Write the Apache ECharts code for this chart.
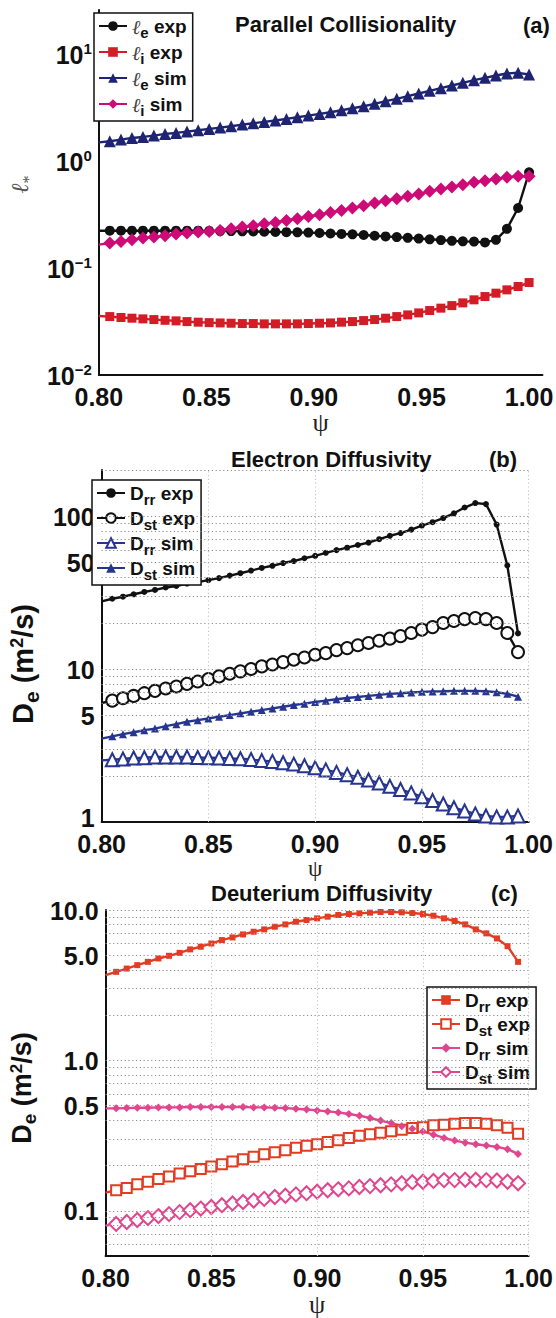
<!DOCTYPE html>
<html><head><meta charset="utf-8">
<script src="https://cdn.jsdelivr.net/npm/echarts@6/dist/echarts.min.js"></script>
<style>html,body{margin:0;padding:0;background:#fff}#c{width:556px;height:1318px}</style>
</head><body><div id="c"></div>
<script>
// ---------- data ----------
const psiA = [0.8,0.8051,0.8103,0.8154,0.8205,0.8256,0.8308,0.8359,0.841,0.8462,0.8513,0.8564,0.8615,0.8667,0.8718,0.8769,0.8821,0.8872,0.8923,0.8974,0.9026,0.9077,0.9128,0.9179,0.9231,0.9282,0.9333,0.9385,0.9436,0.9487,0.9538,0.959,0.9641,0.9692,0.9744,0.9795,0.9846,0.9897,0.9949,1.0];
const psiBC = [0.8,0.805,0.81,0.815,0.82,0.825,0.83,0.835,0.84,0.845,0.85,0.855,0.86,0.865,0.87,0.875,0.88,0.885,0.89,0.895,0.9,0.905,0.91,0.915,0.92,0.925,0.93,0.935,0.94,0.945,0.95,0.955,0.96,0.965,0.97,0.975,0.98,0.985,0.99,0.995];

// (a) parallel collisionality
const leExp = [0.224,0.224,0.224,0.224,0.224,0.224,0.224,0.224,0.224,0.224,0.223,0.222,0.222,0.221,0.220,0.219,0.218,0.217,0.216,0.215,0.213,0.211,0.209,0.207,0.204,0.201,0.198,0.195,0.192,0.189,0.186,0.183,0.180,0.178,0.177,0.174,0.184,0.233,0.365,0.787];
const liExp = [0.0356,0.0352,0.0345,0.0340,0.0335,0.0330,0.0325,0.0321,0.0316,0.0312,0.0309,0.0307,0.0305,0.0303,0.0303,0.0301,0.0301,0.0301,0.0301,0.0303,0.0305,0.0307,0.0312,0.0316,0.0323,0.0330,0.0340,0.0352,0.0365,0.0381,0.0401,0.0422,0.0446,0.0473,0.0505,0.0542,0.0583,0.0626,0.0673,0.0733];
const leSim = [1.50,1.538,1.594,1.652,1.688,1.738,1.802,1.840,1.894,1.950,2.006,2.065,2.124,2.203,2.267,2.334,2.402,2.490,2.580,2.675,2.773,2.874,3.001,3.134,3.272,3.441,3.645,3.833,4.060,4.301,4.556,4.826,5.110,5.414,5.734,6.031,6.343,6.622,6.718,6.480];
const liSim = [0.166,0.1714,0.1778,0.1842,0.1910,0.1951,0.2008,0.2082,0.2127,0.2174,0.2205,0.2253,0.2336,0.2421,0.2492,0.2601,0.2677,0.2795,0.2897,0.3047,0.3159,0.3322,0.3469,0.3648,0.3836,0.4063,0.4273,0.4462,0.4693,0.4935,0.5228,0.5497,0.5740,0.6036,0.6347,0.6580,0.6822,0.7071,0.7225,0.7225];

// (b) electron diffusivity
const eDrrExp = [27.7,28.8,29.7,30.8,31.9,32.9,34.1,34.9,36.2,37.0,38.1,39.3,40.8,42.3,44.0,45.8,47.3,49.3,50.8,53.0,54.9,57.5,59.9,62.1,64.7,67.0,70.6,74.3,77.4,81.5,86.7,91.2,97.0,104.2,113.7,121.6,119.7,88.0,47.5,17.1];
const eDstExp = [6.0,6.21,6.44,6.67,6.95,7.20,7.46,7.69,8.00,8.29,8.59,8.95,9.31,9.66,10.0,10.4,10.7,11.1,11.5,11.9,12.4,12.7,13.3,13.7,14.3,14.8,15.3,15.8,16.4,17.2,18.1,18.8,20.0,20.6,21.2,21.5,21.2,20.0,17.2,12.9];
const eDrrSim = [2.53,2.55,2.58,2.62,2.63,2.66,2.66,2.66,2.66,2.64,2.63,2.62,2.60,2.59,2.56,2.52,2.49,2.44,2.39,2.33,2.26,2.19,2.11,2.04,1.96,1.88,1.80,1.71,1.63,1.55,1.46,1.38,1.31,1.24,1.18,1.13,1.095,1.08,1.08,1.095];
const eDstSim = [3.51,3.63,3.75,3.86,3.98,4.08,4.23,4.36,4.52,4.63,4.75,4.88,5.00,5.13,5.26,5.39,5.53,5.67,5.82,5.94,6.09,6.21,6.34,6.47,6.57,6.67,6.78,6.88,6.95,7.02,7.09,7.13,7.16,7.20,7.20,7.20,7.16,7.05,6.88,6.60];

// (c) deuterium diffusivity
const dDrrExp = [3.69,3.88,4.08,4.30,4.52,4.76,4.96,5.19,5.47,5.70,5.99,6.31,6.57,6.88,7.17,7.43,7.74,8.02,8.36,8.58,8.80,9.03,9.26,9.40,9.50,9.60,9.70,9.70,9.65,9.55,9.40,9.16,8.80,8.45,8.02,7.43,6.99,6.47,5.75,4.52];
const dDstExp = [0.132,0.137,0.142,0.150,0.156,0.163,0.169,0.177,0.183,0.190,0.197,0.204,0.213,0.220,0.229,0.238,0.245,0.253,0.263,0.271,0.277,0.287,0.295,0.305,0.315,0.323,0.331,0.338,0.346,0.355,0.360,0.370,0.373,0.379,0.383,0.383,0.379,0.370,0.357,0.326];
const dDrrSim = [0.480,0.480,0.482,0.484,0.484,0.487,0.487,0.487,0.490,0.490,0.490,0.490,0.490,0.490,0.487,0.487,0.484,0.482,0.477,0.472,0.465,0.458,0.451,0.440,0.429,0.414,0.398,0.383,0.365,0.351,0.337,0.321,0.305,0.293,0.284,0.277,0.272,0.266,0.257,0.239];
const dDstSim = [0.0798,0.0818,0.0843,0.0869,0.0895,0.0923,0.0951,0.098,0.101,0.1035,0.106,0.109,0.112,0.1145,0.117,0.120,0.1235,0.126,0.1286,0.131,0.134,0.137,0.139,0.141,0.144,0.146,0.148,0.150,0.1525,0.155,0.156,0.158,0.160,0.160,0.161,0.161,0.160,0.159,0.156,0.1525];

// tick labels and grid values
const xTicks = [0.8,0.85,0.9,0.95,1.0];
const yTicksA = [0.01,0.1,1,10];
const yTicksB = [1,5,10,50,100];
const yTicksC = [0.1,0.5,1,5,10];
const hGridB = [2,3,4,5,6,7,8,9,10,20,30,40,50,60,70,80,90,100,200];
const hGridC = [0.06,0.07,0.08,0.09,0.1,0.2,0.3,0.4,0.5,0.6,0.7,0.8,0.9,1,2,3,4,5,6,7,8,9,10];
const vGrid = [0.85,0.9,0.95,1.0];

// ---------- chart ----------
const F = "'Liberation Sans Narrow','Liberation Sans',Arial,sans-serif";
const SERIF = "'Liberation Serif','DejaVu Serif',serif";
function pts(xs, ys){ return ys.map((y,i)=> i===0 ? {value:[xs[i],y], symbol:'none'} : [xs[i], y]); }

const legendLabels = {
  A1:'{l|ℓ}{sb|e}{t| exp}', A2:'{l|ℓ}{sb|i}{t| exp}', A3:'{l|ℓ}{sb|e}{t| sim}', A4:'{l|ℓ}{sb|i}{t| sim}',
  B1:'{t|D}{sb|rr}{t| exp}', B2:'{t|D}{sb|st}{t| exp}', B3:'{t|D}{sb|rr}{t| sim}', B4:'{t|D}{sb|st}{t| sim}',
  C1:'{t|D}{sb|rr}{t| exp}', C2:'{t|D}{sb|st}{t| exp}', C3:'{t|D}{sb|rr}{t| sim}', C4:'{t|D}{sb|st}{t| sim}'
};
const legendRich = {
  t:{fontFamily:F, fontWeight:'bold', fontSize:19, color:'#111', lineHeight:18, verticalAlign:'top'},
  l:{fontFamily:SERIF, fontStyle:'italic', fontWeight:'normal', fontSize:20, color:'#444', lineHeight:18, verticalAlign:'top'},
  sb:{fontFamily:F, fontWeight:'bold', fontSize:15, color:'#111', lineHeight:13, padding:[8,0,0,0], verticalAlign:'top'}
};
function mkLegend(names, left, top, gap){
  return {data:names, orient:'vertical', left:left, top:top, backgroundColor:'#fff',
    borderColor:'#111', borderWidth:1.5, borderRadius:0, padding:[4,6,3,4], itemGap:gap,
    itemWidth:28, itemHeight:12, selectedMode:false,
    formatter: n => legendLabels[n], textStyle:{rich:legendRich}};
}
function xAx(grid, max, gap, psiSize){
  return {type:'value', gridIndex:grid, min:0.8, max:max, interval:0.05,
    axisLine:{show:true, onZero:false, lineStyle:{color:'#111', width:2}},
    axisTick:{show:false}, splitLine:{show:false},
    axisLabel:{customValues:xTicks, margin:9, color:'#111', fontFamily:F, fontWeight:'bold', fontSize:25,
      formatter:v=>v.toFixed(2)},
    name:'ψ', nameLocation:'middle', nameGap:gap,
    nameTextStyle:{fontFamily:SERIF, fontSize:psiSize, color:'#222', lineHeight:psiSize}};
}
const supRich = {
  b:{fontFamily:F, fontWeight:'bold', fontSize:25, color:'#111', lineHeight:26, verticalAlign:'bottom'},
  s:{fontFamily:F, fontWeight:'bold', fontSize:15, color:'#111', lineHeight:15, verticalAlign:'top'},
  lo:{fontFamily:F, fontWeight:'bold', fontSize:25, color:'#111', lineHeight:26, padding:[0,0,8,0]}
};
function nameRich(sz){
  return {
    d:{fontFamily:F, fontWeight:'bold', fontSize:sz, color:'#111', lineHeight:sz, verticalAlign:'top'},
    e:{fontFamily:F, fontWeight:'bold', fontSize:Math.round(sz*0.72), color:'#111', lineHeight:14, padding:[Math.round(sz*0.45),0,0,0], verticalAlign:'top'},
    s:{fontFamily:F, fontWeight:'bold', fontSize:Math.round(sz*0.62), color:'#111', lineHeight:14, verticalAlign:'top'}
  };
}
function yAx(grid, min, max, ticks, fmt, name, rich, gap, pad){
  return {type:'log', logBase:10, gridIndex:grid, min:min, max:max,
    axisLine:{show:true, onZero:false, lineStyle:{color:'#111', width:2}},
    axisTick:{show:false}, splitLine:{show:false}, minorTick:{show:false},
    axisLabel:{customValues:ticks, margin:7, formatter:fmt, color:'#111', fontFamily:F, fontWeight:'bold', fontSize:25, rich:supRich},
    name:name, nameLocation:'middle', nameRotate:90, nameGap:gap, nameTextStyle:{rich:rich, padding:pad||0}};
}
function gridSeries(xi, hvals, vvals, anchor){
  const data = hvals.map(v=>({yAxis:v, lineStyle:{color:'#8c8c8c'}})).concat(vvals.map(v=>({xAxis:v, lineStyle:{color:'#c4c4c4'}})));
  return {type:'line', xAxisIndex:xi, yAxisIndex:xi, data:[anchor], symbol:'none', lineStyle:{opacity:0}, z:1, silent:true,
    markLine:{silent:true, symbol:['none','none'], label:{show:false}, animation:false,
      lineStyle:{type:[1.2,2.6], width:1.1}, data:data}};
}
function ser(name, xi, xs, ys, color, symbol, size, extra){
  return Object.assign({name:name, type:'line', xAxisIndex:xi, yAxisIndex:xi, data:pts(xs,ys),
    symbol:symbol, symbolSize:size, showAllSymbol:true, z:3,
    lineStyle:{color:color, width:2.4}, itemStyle:{color:color, borderWidth:0}}, extra||{});
}
const openStyle = (c,w)=>({itemStyle:{color:c, borderColor:c, borderWidth:w}});

const fmtA = v => { const e = Math.round(Math.log10(v)); return '{b|10}{s|' + (e<0 ? '−'+(-e) : e) + '}'; };
const fmtB = v => Math.round(v) === 1 ? '{lo|1}' : '{b|' + Math.round(v) + '}';
const fmtC = v => '{b|' + v.toFixed(1) + '}';

const cBlack='#111111', cRedA='#d21d26', cNavy='#1e2471', cMag='#cd0b76', cBlue='#26358f', cRedC='#e23c22', cPink='#e0468e';
const TS = {fontFamily:F, fontWeight:'bold', fontSize:22, color:'#111'};

const option = {
  animation:false,
  backgroundColor:'#fff',
  title:[
    {text:'Parallel Collisionality', left:230, top:8, textStyle:TS},
    {text:'(a)', left:518, top:9, textStyle:TS},
    {text:'Electron Diffusivity', left:226, top:443, textStyle:TS},
    {text:'(b)', left:484, top:443, textStyle:TS},
    {text:'Deuterium Diffusivity', left:206, top:877, textStyle:TS},
    {text:'(c)', left:486, top:877, textStyle:TS}
  ],
  grid:[
    {left:85, top:10, width:469, height:365},
    {left:83, top:470, width:450, height:352},
    {left:82, top:910, width:451, height:350}
  ],
  xAxis:[xAx(0,1.0062,33,26), xAx(1,1.0,26,23), xAx(2,1.0,31,26)],
  yAxis:[
    yAx(0, 0.01, 26, yTicksA, fmtA, '{l|ℓ}{s|*}', {
      l:{fontFamily:SERIF, fontStyle:'italic', fontSize:24, color:'#555', lineHeight:24, verticalAlign:'top'},
      s:{fontFamily:SERIF, fontSize:16, color:'#555', lineHeight:12, padding:[12,0,0,0], verticalAlign:'top'}}, 52, [0,0,0,16]),
    yAx(1, 1, 200, yTicksB, fmtB, '{d|D}{e|e}{d| (m}{s|2}{d|/s)}', nameRich(29), 40, [0,36,0,0]),
    yAx(2, 0.05, 10, yTicksC, fmtC, '{d|D}{e|e}{d| (m}{s|2}{d|/s)}', nameRich(27), 50, [0,10,0,0])
  ],
  legend:[
    mkLegend(['A1','A2','A3','A4'], 94, 13, 3),
    mkLegend(['B1','B2','B3','B4'], 92, 480, 2),
    mkLegend(['C1','C2','C3','C4'], 427, 987, 1)
  ],
  series:[
    gridSeries(1, hGridB, vGrid, [0.9, 10]),
    gridSeries(2, hGridC, vGrid, [0.9, 1]),
    ser('A1', 0, psiA, leExp, cBlack, 'circle', 10),
    ser('A2', 0, psiA, liExp, cRedA, 'rect', 9),
    ser('A3', 0, psiA, leSim, cNavy, 'triangle', 12),
    ser('A4', 0, psiA, liSim, cMag, 'diamond', 13),
    ser('B1', 1, psiBC, eDrrExp, cBlack, 'circle', 6),
    ser('B2', 1, psiBC, eDstExp, cBlack, 'emptyCircle', 12, openStyle(cBlack, 2.6)),
    ser('B3', 1, psiBC, eDrrSim, cBlue, 'emptyTriangle', 13, openStyle(cBlue, 2)),
    ser('B4', 1, psiBC, eDstSim, cBlue, 'triangle', 8),
    ser('C1', 2, psiBC, dDrrExp, cRedC, 'rect', 6),
    ser('C2', 2, psiBC, dDstExp, cRedC, 'emptyRect', 10, openStyle(cRedC, 2.6)),
    ser('C3', 2, psiBC, dDrrSim, cPink, 'diamond', 8),
    ser('C4', 2, psiBC, dDstSim, cPink, 'emptyDiamond', 14, openStyle(cPink, 2.4))
  ]
};
const chart = echarts.init(document.getElementById('c'), null, {renderer:'svg'});
chart.setOption(option);
</script></body></html>
